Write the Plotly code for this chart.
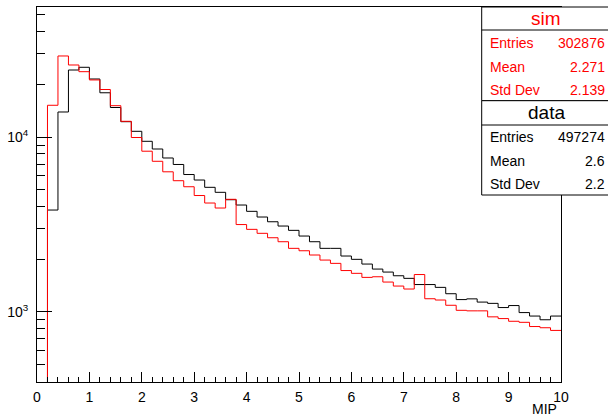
import plotly.graph_objects as go

# Bin edges 0..10 in steps of 0.2 (50 bins)
bin_edges = [round(i * 0.2, 1) for i in range(51)]

sim_counts = [100, 15190, 29090, 25830, 23650, 21210, 18700, 15110, 12300, 9935,
              8293, 7262, 6322, 5622, 5193, 4625, 4190, 3923, 4400, 3155,
              2962, 2811, 2652, 2516, 2306, 2234, 2112, 1976, 1892, 1721,
              1659, 1573, 1586, 1479, 1403, 1349, 1633, 1187, 1167, 1089,
              1019, 1012, 1012, 935, 914, 882, 870, 823, 810, 782]

data_counts = [200, 3820, 13905, 24180, 25060, 21480, 17910, 14750, 12235, 10780,
               9450, 8538, 7585, 6963, 6100, 5674, 5153, 4825, 4376, 4081,
               3755, 3484, 3274, 3094, 2923, 2712, 2516, 2306, 2306, 2084,
               1995, 1875, 1755, 1687, 1607, 1553, 1431, 1431, 1379, 1268,
               1174, 1185, 1136, 1117, 1057, 1085, 989, 945, 900, 945]

x_ticks = list(range(0, 11))
y_ticks = [1000, 10000]
y_ticktext = ["10<sup>3</sup>", "10<sup>4</sup>"]
y_minor = [400, 500, 600, 700, 800, 900,
           2000, 3000, 4000, 5000, 6000, 7000, 8000, 9000,
           20000, 30000, 40000, 50000]

stat_labels = ["Entries", "Mean", "Std Dev"]
sim_stats = ["302876", "2.271", "2.139"]
data_stats = ["497274", "2.6", "2.2"]

FONT = "Liberation Sans, Arial, Helvetica, sans-serif"

fig = go.Figure()
fig.add_trace(go.Scatter(x=bin_edges, y=data_counts + [data_counts[-1]], mode="lines",
                         line=dict(shape="hv", color="black", width=1), showlegend=False))
fig.add_trace(go.Scatter(x=bin_edges, y=sim_counts + [sim_counts[-1]], mode="lines",
                         line=dict(shape="hv", color="#ff0000", width=1), showlegend=False))

L, R, T, B = 37, 47, 7, 36
W, H = 608, 418
pw, ph = W - L - R, H - T - B


def px(x):
    return (x - L) / pw


def py(y):
    return (H - B - y) / ph


shapes = []
box_l, box_r = px(481.7), px(609)
for top, sep, bot in [(7, 30, 100.7), (100.7, 125, 195)]:
    shapes.append(dict(type="rect", xref="paper", yref="paper", x0=box_l, x1=box_r,
                       y0=py(bot), y1=py(top), line=dict(color="black", width=1),
                       fillcolor="white", layer="above"))
    shapes.append(dict(type="line", xref="paper", yref="paper", x0=box_l, x1=box_r,
                       y0=py(sep), y1=py(sep), line=dict(color="black", width=1), layer="above"))

ann = []
ann.append(dict(text="sim", x=px(546), y=py(18.5), xref="paper", yref="paper", showarrow=False,
                xanchor="center", yanchor="middle", font=dict(family=FONT, size=19, color="#ff0000")))
ann.append(dict(text="data", x=px(546), y=py(112.5), xref="paper", yref="paper", showarrow=False,
                xanchor="center", yanchor="middle", font=dict(family=FONT, size=19, color="black")))
for rows, vals, color in [([43.3, 66.7, 90], sim_stats, "#ff0000"), ([136.7, 161, 184], data_stats, "black")]:
    for lab, val, yy in zip(stat_labels, vals, rows):
        ann.append(dict(text=lab, x=px(487.5), y=py(yy), xref="paper", yref="paper", showarrow=False,
                        xanchor="left", yanchor="middle", font=dict(family=FONT, size=14, color=color)))
        ann.append(dict(text=val, x=px(606.5), y=py(yy), xref="paper", yref="paper", showarrow=False,
                        xanchor="right", yanchor="middle", font=dict(family=FONT, size=14, color=color)))
ann.append(dict(text="MIP", x=px(559), y=py(409), xref="paper", yref="paper", showarrow=False,
                xanchor="right", yanchor="middle", font=dict(family=FONT, size=14, color="black")))

fig.update_layout(
    width=W, height=H,
    margin=dict(l=L, r=R, t=T, b=B),
    paper_bgcolor="white", plot_bgcolor="white",
    font=dict(family=FONT, size=14, color="black"),
    shapes=shapes, annotations=ann,
    xaxis=dict(range=[0, 10], tickmode="array", tickvals=x_ticks, ticks="inside", ticklen=10,
               tickcolor="black", tickwidth=1, showline=True, linecolor="black", linewidth=1,
               mirror=True, showgrid=False, zeroline=False, tickfont=dict(size=14),
               ticklabelstandoff=2,
               minor=dict(dtick=0.2, tick0=0, ticks="inside", ticklen=5, tickcolor="black", showgrid=False)),
    yaxis=dict(type="log", range=[2.598, 4.744], tickmode="array", tickvals=y_ticks, ticktext=y_ticktext,
               ticks="inside", ticklen=15, tickcolor="black", tickwidth=1, showline=True,
               linecolor="black", linewidth=1, mirror=True, showgrid=False, zeroline=False,
               tickfont=dict(size=14), ticklabelstandoff=5,
               minor=dict(tickmode="array", tickvals=y_minor, ticks="inside", ticklen=8,
                          tickcolor="black", showgrid=False)),
)

fig.write_html("out.html", config={"displayModeBar": False},
               post_script="document.body.style.margin='0';")
